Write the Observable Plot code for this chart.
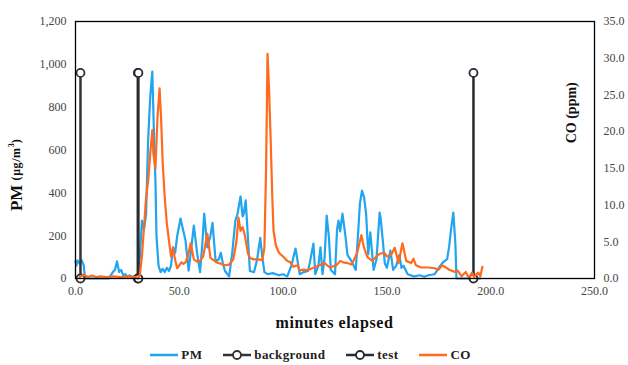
<!DOCTYPE html>
<html>
<head>
<meta charset="utf-8">
<script src="https://cdn.jsdelivr.net/npm/d3@7"></script>
<script src="https://cdn.jsdelivr.net/npm/@observablehq/plot@0.6"></script>
<style>
  html, body { margin: 0; padding: 0; background: #fff; }
  #wrap { width: 628px; height: 365px; position: relative; font-family: "Liberation Serif", "Times New Roman", serif; }
  #legend { display: flex; justify-content: center; align-items: center; height: 21px; padding-top: 4px; font-weight: bold; font-size: 13px; color: #222; letter-spacing: 0.4px; padding-right: 8px; }
  .item { display: flex; align-items: center; margin: 0 10px; }
  .item svg { margin-right: 2px; }
  #chart svg text { font-family: "Liberation Serif", "Times New Roman", serif !important; }
</style>
</head>
<body>
<div id="wrap"><div id="chart"></div><div id="legend"></div></div>
<script>
// ---- data ----
const pmSeries = [
  [0,80],[0.5,60],[1,85],[2,70],[3,85],[4,60],[4.5,0],[16,0],[17,15],[18,30],[19,40],[20,80],[21,30],[22,40],[23,15],[24,20],[25,8],[26,15],[27,5],[28,10],[29,0],[30,0],
  [31,100],[32,270],[33,230],[34,300],[35,650],[36,850],[37,966],[38,600],[38.5,457],[39,200],[40,60],[41,30],[42,45],[43,30],[44,50],[45,35],[46,60],[47,145],[48,120],[49,200],[50,250],[50.6,280],[51.5,240],[53,177],[54.5,37],[55.5,120],[57,247],[58.6,117],[60,30],[61,150],[62,303],[63.5,145],[65,200],[66,260],[67.5,80],[69,90],[70,120],[71,70],[72,35],[74,10],[75.5,120],[77,270],[78,300],[79.5,383],[80.5,290],[81,300],[82,365],[83,200],[84,35],[86,30],[87.5,90],[89,190],[90,100],[91,30],[92.5,20],[95,25],[98,15],[100,20],[102,10],[104,60],[106,140],[107,80],[108,20],[110,30],[112,35],[113,80],[114.6,163],[115.5,20],[117,60],[118,145],[119,20],[120,100],[121,294],[122,200],[123,40],[125,20],[126,230],[126.7,270],[127.5,220],[128.6,303],[130,200],[131,110],[133,80],[135,40],[136.3,238],[137,350],[138,410],[139,380],[140,300],[141,112],[142,215],[143.6,40],[145,90],[146.5,308],[147,280],[148,180],[149,70],[150,50],[151.7,130],[153,40],[154.5,60],[156,110],[157,50],[158,60],[160,20],[163,10],[166,15],[168,8],[170,15],[173,20],[175,50],[177,75],[179,90],[180,150],[181,238],[182,308],[183,160],[183.5,0],[195,0]
];
const coSeries = [
  [2,0.2],[4,0.5],[6,0.2],[8,0.4],[10,0.2],[12,0.3],[15,0.2],[18,0.3],[22,0.2],[26,0.3],[29,0.2],[30,0],[31,0.5],[32,3],[33,7],[34,11],[35,13.3],[36,17],[37,20.2],[37.5,17],[38.5,15],[39.5,22],[40.5,25.9],[41.2,22],[42,15.8],[43,11],[44,7.5],[45,5.2],[46,3],[47,4.2],[48,2.5],[49,1.4],[50,1.8],[51,2.2],[52,2],[53,2.2],[54,2.9],[55.5,4.8],[57,2.6],[58.5,2.3],[60,2.4],[61.5,3],[63.5,6.1],[65,2.8],[66.5,2.5],[68,2.2],[70,2],[72,1.8],[74,1.9],[76,2.6],[77.5,5],[78.5,8.3],[79.5,6.5],[80.5,7],[81.5,6],[82,5.2],[83,3.5],[84,2.8],[86,2.6],[88,2.6],[90,2.5],[91,4.2],[91.8,15],[92.5,30.6],[93.2,26],[94,19],[94.8,11],[95.4,6.5],[96.5,4.5],[98,3.5],[100,3],[102,2.4],[103.5,2.2],[105,1.6],[107,1.8],[108,1.1],[110,1.2],[112,1.1],[113,1.3],[115,1.5],[117.6,1.8],[120,2.1],[122.5,1.5],[125.7,1.8],[127.5,2.4],[129,2.2],[130.9,2.1],[133,1.9],[135.6,3.4],[137.7,5.9],[139,4.2],[140.6,2.9],[143,2.4],[145.6,3.2],[147,3.4],[148.8,3.5],[150,3.0],[152,3.2],[153.8,4.2],[155.6,2.1],[157.5,4.8],[159.3,2.4],[161.7,2.1],[162.8,2.7],[164,1.8],[166.5,1.5],[170,1.5],[173,1.4],[175,1.2],[176.5,1.8],[177.9,1.6],[180,1.2],[182.7,0.9],[184,1.1],[186,0.3],[187,0.6],[188,0.9],[189,0.3],[190,0.3],[191,0.8],[192,0.2],[193,0.5],[194,0.8],[195,0.3],[196,1.6]
];
const backgroundTimes = [2.4, 30.0];
const testTimes = [30.3, 191.7];
const markerTop = 960;
const xTicks = [0, 50, 100, 150, 200, 250];
const pmTicks = [0, 200, 400, 600, 800, 1000, 1200];
const coTicks = [0, 5, 10, 15, 20, 25, 30, 35];
const pmMax = 1200, coMax = 35;

const colors = { pm: "#22A4EE", co: "#FF6A1C", background: "#333333", test: "#252C33" };
const serif = "'Liberation Serif','Times New Roman',serif";

// ---- chart ----
const k = pmMax / coMax;
const vSegs = (ts) => ts.map(t => ({t, y1: 0, y2: markerTop}));
const vDots = (ts) => ts.flatMap(t => [{t, y: 0}, {t, y: markerTop}]);
const axisStyle = { tickSize: 0, label: null, fontFamily: serif, fontSize: 12, fill: "#454545" };

const plot = Plot.plot({
  width: 628, height: 340,
  marginTop: 21, marginBottom: 62, marginLeft: 75, marginRight: 34,
  style: { fontFamily: serif, fontSize: "12px", color: "#454545", background: "#fff", overflow: "visible" },
  x: { domain: [0, 250] },
  y: { domain: [0, pmMax] },
  marks: [
    Plot.axisY({ ...axisStyle, ticks: pmTicks, tickPadding: 9, tickFormat: d3.format(",") }),
    Plot.axisY({ ...axisStyle, ticks: coTicks.map(v => v * k), anchor: "right", tickPadding: 9, tickFormat: d => (d / k).toFixed(1) }),
    Plot.axisX({ ...axisStyle, ticks: xTicks, tickPadding: 8, tickFormat: d => d.toFixed(1) }),
    Plot.line(pmSeries, { x: d => d[0], y: d => d[1], stroke: colors.pm, strokeWidth: 2.2, strokeLinejoin: "round" }),
    Plot.ruleX(vSegs(backgroundTimes), { x: "t", y1: "y1", y2: "y2", stroke: colors.background, strokeWidth: 2.5 }),
    Plot.dot(vDots(backgroundTimes), { x: "t", y: "y", r: 4, fill: "#fff", stroke: colors.background, strokeWidth: 1.8 }),
    Plot.ruleX(vSegs(testTimes), { x: "t", y1: "y1", y2: "y2", stroke: colors.test, strokeWidth: 2.5 }),
    Plot.dot(vDots(testTimes), { x: "t", y: "y", r: 4, fill: "#fff", stroke: colors.test, strokeWidth: 1.8 }),
    Plot.line(coSeries, { x: d => d[0], y: d => d[1] * k, stroke: colors.co, strokeWidth: 2.2, strokeLinejoin: "round" }),
    Plot.frame({ stroke: "#000", strokeWidth: 1.3 })
  ]
});
document.getElementById("chart").appendChild(plot);

// titles placed with the plot's scales
const svg = d3.select(plot);
svg.selectAll("text").attr("font-family", serif);
const xs = plot.scale("x"), ys = plot.scale("y");
const xMid = (xs.range[0] + xs.range[1]) / 2;
svg.append("text")
  .attr("x", xMid).attr("y", ys.range[0] + 50)
  .attr("text-anchor", "middle").attr("font-family", serif).attr("font-weight", "bold").attr("font-size", 16).attr("letter-spacing", 0.6)
  .attr("fill", "#111").text("minutes elapsed");

const pmTitle = svg.append("text")
  .attr("transform", `translate(${xs.range[0] - 59},${ys.apply(480)}) rotate(-90)`)
  .attr("text-anchor", "middle").attr("dominant-baseline", "central").attr("font-family", serif).attr("font-weight", "bold").attr("fill", "#111");
pmTitle.append("tspan").attr("font-size", 17).text("PM ");
pmTitle.append("tspan").attr("font-size", 12).attr("letter-spacing", 0.6).text("(μg/m");
pmTitle.append("tspan").attr("font-size", 8).attr("dy", -5).text("3");
pmTitle.append("tspan").attr("font-size", 12).attr("dy", 5).text(")");

svg.append("text")
  .attr("transform", `translate(${xs.range[1] - 23},${ys.apply(22.5 * k)}) rotate(-90)`)
  .attr("text-anchor", "middle").attr("dominant-baseline", "central").attr("font-family", serif).attr("font-weight", "bold").attr("font-size", 14)
  .attr("fill", "#111").text("CO (ppm)");

// ---- legend ----
const legendItems = [
  { label: "PM", color: colors.pm, marker: false },
  { label: "background", color: colors.background, marker: true },
  { label: "test", color: colors.test, marker: true },
  { label: "CO", color: colors.co, marker: false }
];
const legend = d3.select("#legend");
legendItems.forEach(it => {
  const item = legend.append("div").attr("class", "item");
  const s = item.append("svg").attr("width", 30).attr("height", 12);
  s.append("line").attr("x1", 1).attr("x2", 29).attr("y1", 6).attr("y2", 6).attr("stroke", it.color).attr("stroke-width", 2.5);
  if (it.marker) s.append("circle").attr("cx", 15).attr("cy", 6).attr("r", 4).attr("fill", "#fff").attr("stroke", it.color).attr("stroke-width", 1.8);
  item.append("span").text(it.label);
});
</script>
</body>
</html>
